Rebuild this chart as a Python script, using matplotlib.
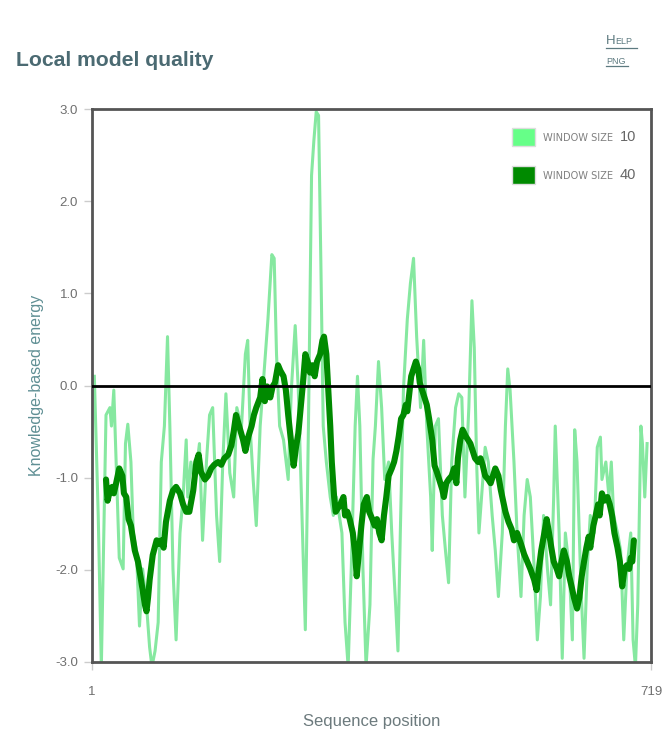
import matplotlib
matplotlib.use("Agg")
import matplotlib.pyplot as plt
from matplotlib.patches import Rectangle
from matplotlib.lines import Line2D

plt.rcParams['font.family'] = ['Liberation Sans', 'DejaVu Sans']
plt.rcParams['axes.unicode_minus'] = False

# Knowledge-based energy, window size 10 (residue position, energy)
pos_w10 = [4, 9, 13, 19, 24, 26, 29, 32, 36, 41, 44, 47, 51, 54, 58, 62, 66, 71, 75, 78,
           82, 86, 90, 94, 98, 101, 105, 109, 114, 118, 122, 124, 128, 133, 139, 143, 148,
           152, 156, 161, 165, 169, 173, 178, 183, 187, 193, 198, 201, 204, 208, 212, 217,
           221, 227, 232, 235, 238, 242, 247, 253, 257, 262, 266, 270, 275, 279, 283, 286,
           289, 292, 295, 298, 302, 307, 311, 315, 322, 326, 330, 334, 339, 342, 345, 349,
           353, 358, 362, 365, 369, 373, 377, 382, 386, 391, 394, 397, 401, 406, 410, 414,
           418, 423, 427, 431, 436, 438, 442, 446, 451, 455, 459, 463, 468, 472, 476, 480,
           485, 489, 492, 495, 498, 502, 506, 510, 515, 519, 523, 528, 532, 535, 538, 543,
           547, 552, 556, 560, 564, 569, 573, 577, 581, 586, 590, 594, 596, 601, 605, 609,
           614, 618, 621, 624, 629, 633, 637, 641, 646, 650, 654, 656, 661, 665, 668, 671,
           676, 680, 684, 688, 693, 696, 699, 702, 706, 708, 711, 714]
energy_w10 = [0.10, -1.41, -3.05, -0.32, -0.24, -0.44, -0.05, -0.83, -1.87, -1.99, -0.63,
              -0.42, -0.83, -1.60, -1.79, -2.61, -1.99, -2.38, -2.84, -3.05, -2.88, -2.57,
              -0.83, -0.44, 0.53, -0.44, -1.99, -2.76, -1.60, -1.21, -0.59, -1.21, -0.83,
              -1.06, -0.63, -1.68, -0.83, -0.32, -0.24, -1.41, -1.91, -0.83, -0.09, -0.95,
              -1.21, -0.24, -0.45, 0.34, 0.49, -0.44, -1.02, -1.52, -0.44, 0.03, 0.72, 1.42,
              1.38, 0.34, -0.44, -0.59, -1.02, -0.05, 0.65, -0.05, -1.21, -2.65, -0.44,
              2.28, 2.66, 2.97, 2.93, 1.31, -0.44, -0.83, -1.21, -1.41, -1.21, -1.60,
              -2.57, -3.05, -1.99, -0.44, 0.10, -0.44, -1.99, -3.05, -2.38, -0.80, -0.44,
              0.26, -0.24, -1.02, -0.83, -1.60, -2.38, -2.88, -1.60, -0.05, 0.72, 1.11,
              1.38, 0.53, -0.24, 0.49, -0.44, -1.21, -1.79, -0.44, -0.36, -1.41, -1.79,
              -2.14, -0.83, -0.24, -0.09, -0.13, -1.21, -0.24, 0.92, 0.41, -0.83, -1.60,
              -1.13, -0.67, -0.83, -1.41, -1.79, -2.29, -1.60, -0.44, 0.18, -0.05, -0.83,
              -1.60, -2.29, -1.41, -1.02, -1.21, -1.99, -2.76, -2.29, -1.41, -1.99, -2.38,
              -1.21, -0.44, -1.60, -2.96, -1.60, -1.99, -2.76, -0.48, -0.83, -2.18, -2.96,
              -1.99, -1.41, -1.60, -0.67, -0.56, -1.02, -0.83, -1.21, -0.83, -1.41, -1.60,
              -1.79, -2.76, -1.99, -1.60, -2.76, -3.05, -2.38, -0.44, -0.63, -1.21, -0.63]

# Knowledge-based energy, window size 40 (ten values per row in both lists)
pos_w40 = [19, 21, 24, 27, 29, 32, 36, 40, 42, 45,
           48, 51, 56, 60, 64, 69, 71, 73, 75, 79,
           84, 87, 90, 93, 96, 101, 105, 109, 114, 118,
           122, 126, 131, 135, 138, 141, 146, 150, 154, 158,
           163, 167, 171, 176, 180, 183, 186, 190, 195, 198,
           202, 206, 209, 212, 217, 220, 223, 226, 230, 233,
           236, 240, 243, 247, 250, 253, 257, 260, 263, 266,
           269, 272, 275, 278, 281, 284, 287, 290, 294, 297,
           299, 302, 304, 307, 309, 312, 314, 317, 320, 324,
           326, 329, 332, 336, 339, 341, 344, 347, 350, 354,
           357, 361, 364, 367, 370, 373, 376, 379, 382, 386,
           389, 392, 395, 398, 401, 404, 406, 409, 411, 414,
           417, 420, 422, 425, 428, 431, 434, 438, 441, 444,
           447, 451, 453, 456, 459, 463, 466, 469, 471, 474,
           477, 481, 484, 487, 490, 493, 497, 500, 503, 506,
           510, 513, 516, 519, 523, 526, 529, 532, 536, 540,
           543, 547, 552, 556, 560, 564, 569, 572, 575, 578,
           582, 585, 588, 591, 594, 598, 601, 604, 607, 611,
           614, 617, 620, 624, 627, 630, 633, 636, 639, 641,
           645, 648, 651, 653, 656, 659, 663, 666, 669, 672,
           676, 679, 682, 685, 688, 691, 693, 695, 697]
energy_w40 = [-1.02, -1.25, -1.14, -1.10, -1.17, -1.06, -0.90, -0.98, -1.17, -1.21,
              -1.45, -1.52, -1.79, -1.91, -2.11, -2.38, -2.45, -2.30, -2.11, -1.84,
              -1.68, -1.72, -1.68, -1.76, -1.48, -1.25, -1.14, -1.10, -1.17, -1.29,
              -1.37, -1.37, -1.14, -0.83, -0.75, -0.94, -1.02, -0.98, -0.90, -0.86,
              -0.83, -0.86, -0.79, -0.75, -0.65, -0.50, -0.32, -0.44, -0.59, -0.71,
              -0.55, -0.44, -0.32, -0.24, -0.13, 0.07, -0.17, -0.01, -0.13, -0.01,
              0.03, 0.22, 0.16, 0.10, -0.05, -0.32, -0.63, -0.87, -0.67, -0.52,
              -0.24, 0.03, 0.34, 0.26, 0.14, 0.22, 0.10, 0.26, 0.34, 0.49,
              0.53, 0.34, 0.03, -0.44, -0.83, -1.21, -1.37, -1.33, -1.29, -1.21,
              -1.41, -1.37, -1.45, -1.60, -1.83, -2.07, -1.79, -1.52, -1.29, -1.21,
              -1.37, -1.45, -1.52, -1.45, -1.60, -1.68, -1.41, -1.21, -0.98, -0.90,
              -0.83, -0.71, -0.55, -0.36, -0.32, -0.21, -0.28, -0.05, 0.10, 0.18,
              0.26, 0.18, 0.03, -0.05, -0.13, -0.21, -0.36, -0.59, -0.87, -0.94,
              -1.02, -1.13, -1.21, -1.06, -1.02, -0.98, -0.90, -1.06, -0.79, -0.59,
              -0.48, -0.55, -0.59, -0.63, -0.71, -0.79, -0.83, -0.79, -0.87, -0.98,
              -1.02, -1.06, -0.98, -0.90, -0.98, -1.13, -1.25, -1.37, -1.48, -1.56,
              -1.68, -1.60, -1.72, -1.83, -1.91, -1.99, -2.11, -2.22, -1.99, -1.79,
              -1.60, -1.45, -1.60, -1.76, -1.91, -1.99, -2.07, -1.91, -1.79, -1.91,
              -2.07, -2.18, -2.30, -2.42, -2.30, -2.07, -1.91, -1.76, -1.64, -1.76,
              -1.52, -1.41, -1.29, -1.41, -1.17, -1.25, -1.21, -1.29, -1.41, -1.60,
              -1.76, -1.91, -2.18, -1.99, -1.95, -1.99, -1.87, -1.91, -1.68]

y_ticks = [-3.0, -2.0, -1.0, 0.0, 1.0, 2.0, 3.0]
x_ticks = [1, 719]
legend_labels = ["10", "40"]

light_green = "#86e8a0"
dark_green = "#008a00"

W, H = 672, 755
fig = plt.figure(figsize=(W / 100, H / 100), dpi=100)
ax = fig.add_axes([92 / W, 1 - 662 / H, (651 - 92) / W, (662 - 109) / H])

ax.plot(pos_w10, energy_w10, color=light_green, lw=2.2, solid_joinstyle="round", zorder=2)
ax.plot(pos_w40, energy_w40, color=dark_green, lw=4.4, solid_joinstyle="round",
        solid_capstyle="round", zorder=3)
ax.axhline(0, color="black", lw=2.0, zorder=4)

ax.set_xlim(1, 719)
ax.set_ylim(-3, 3)
ax.set_yticks(y_ticks)
ax.set_yticklabels([f"{v:.1f}" for v in y_ticks])
ax.set_xticks(x_ticks)
ax.set_xticklabels([str(v) for v in x_ticks])
ax.tick_params(axis="both", colors="#cccccc", labelcolor="#6f6f6f", labelsize=9.5,
               length=6, width=1)
ax.tick_params(axis="x", pad=11)
ax.tick_params(axis="y", pad=4)
for s in ax.spines.values():
    s.set_color("#555555")
    s.set_linewidth(2)

ax.set_ylabel("Knowledge-based energy", color="#5f8f94", fontsize=11.5, labelpad=8)
ax.set_xlabel("Sequence position", color="#6c7a7d", fontsize=12, labelpad=12)

# legend swatches and labels
for i, lab in enumerate(legend_labels):
    y0 = 128 + i * 38
    sw = "#66ff88" if i == 0 else dark_green
    fig.add_artist(Rectangle((512 / W, 1 - (y0 + 18) / H), 23 / W, 18 / H,
                             facecolor=sw, edgecolor="#dddddd", lw=1,
                             transform=fig.transFigure))
    fig.text(543 / W, 1 - (y0 + 10) / H, "WINDOW SIZE", fontsize=7.1, color="#808080",
             va="center", ha="left", family="DejaVu Sans")
    fig.text(620 / W, 1 - (y0 + 9) / H, lab, fontsize=10.5, color="#666666",
             va="center", ha="left")

# header
fig.text(16 / W, 1 - 60 / H, "Local model quality", fontsize=15.2, fontweight="bold",
         color="#4b6a72", va="center", ha="left")
fig.text(606 / W, 1 - 41 / H, "H", fontsize=9.5, color="#5d7a80", va="center", ha="left")
fig.text(615 / W, 1 - 42 / H, "ELP", fontsize=6.5, color="#5d7a80", va="center", ha="left")
fig.add_artist(Line2D([606 / W, 637 / W], [1 - 48 / H, 1 - 48 / H], color="#5d7a80", lw=0.9))
fig.text(606 / W, 1 - 61 / H, "PNG", fontsize=6.5, color="#5d7a80", va="center", ha="left")
fig.add_artist(Line2D([606 / W, 628 / W], [1 - 66 / H, 1 - 66 / H], color="#5d7a80", lw=0.9))

fig.savefig("out.png", dpi=100, facecolor="white")
